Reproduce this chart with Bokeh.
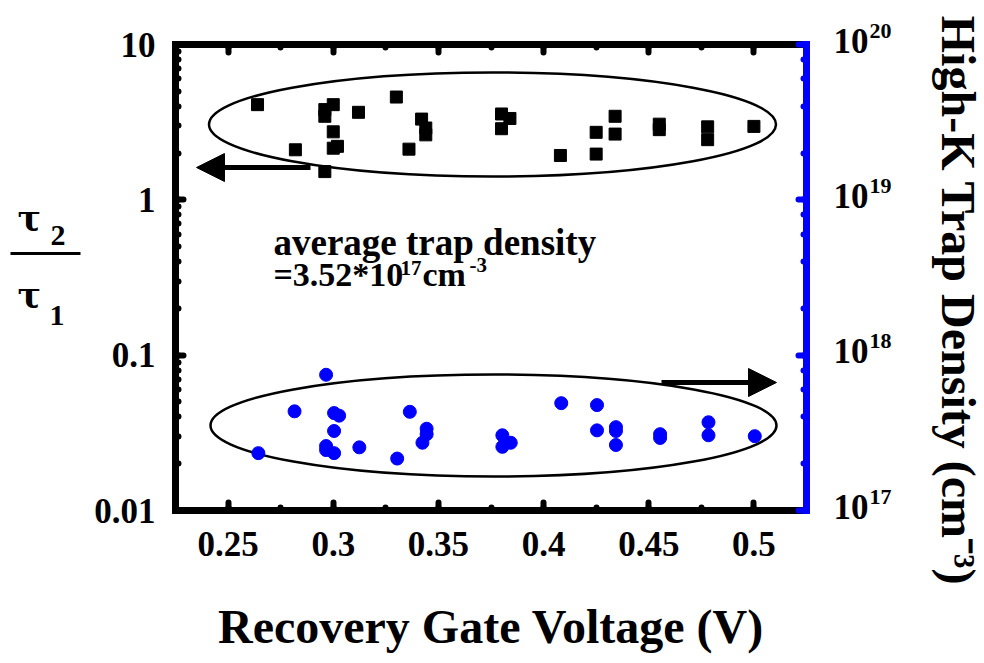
import math
from bokeh.plotting import figure
from bokeh.layouts import row
from bokeh.models import (Range1d, LogAxis, LinearAxis, LogScale, LogTicker,
                          SingleIntervalTicker, NumeralTickFormatter, Label,
                          Arrow, NormalHead)
from bokeh.embed import file_html
from bokeh.resources import INLINE

# ---------------- data ----------------
ratio_voltage = [0.264, 0.282, 0.296, 0.296, 0.296, 0.300, 0.300, 0.300, 0.302,
                 0.312, 0.330, 0.336, 0.342, 0.344, 0.344, 0.380, 0.384, 0.380,
                 0.408, 0.425, 0.425, 0.434, 0.434, 0.455, 0.455, 0.478, 0.478,
                 0.500]
ratio_tau = [4.10, 2.10, 1.52, 3.81, 3.45, 4.10, 2.74, 2.15, 2.21,
             3.66, 4.59, 2.12, 3.31, 2.90, 2.62, 3.57, 3.34, 2.87,
             1.93, 2.72, 1.97, 3.45, 2.65, 3.07, 2.83, 2.95, 2.44,
             2.97]

density_voltage = [0.2966, 0.2816, 0.2644, 0.3004, 0.3028, 0.3004, 0.2966, 0.2966,
                   0.3004, 0.3124, 0.3304, 0.3364, 0.3444, 0.3444, 0.3424, 0.3804,
                   0.3844, 0.3804, 0.4084, 0.4254, 0.4254, 0.4344, 0.4344, 0.4344,
                   0.4554, 0.4554, 0.4784, 0.4784, 0.5004]
trap_density = [7.48e17, 4.35e17, 2.34e17, 4.24e17, 4.08e17, 3.25e17, 2.60e17, 2.45e17,
                2.34e17, 2.55e17, 2.16e17, 4.32e17, 3.36e17, 3.10e17, 2.73e17, 3.05e17,
                2.73e17, 2.57e17, 4.91e17, 4.77e17, 3.28e17, 3.44e17, 3.25e17, 2.64e17,
                3.10e17, 2.93e17, 3.70e17, 3.05e17, 3.01e17]

x_limits = (0.225, 0.525)
ratio_limits = (0.01, 10)
density_limits = (1e17, 1e20)
density_ticks = [1e17, 1e18, 1e19, 1e20]
density_tick_base = "10"
density_tick_exps = ["17", "18", "19", "20"]

x_title = "Recovery Gate Voltage (V)"
right_title = "High-K Trap Density (cm\u207b\u00b3)"
note_line1 = "average trap density"
note_line2 = ["=3.52*10", "17", "cm", "-3"]
left_title = ["\u03c4", "2", "\u03c4", "1"]

# ---------------- layout / style ----------------
W, H = 984, 663
FL, FR, FT, FB = 175, 806, 44, 510      # plot frame on the page
LW = 88                                  # left label strip width
RX = 832                                 # right label strip starts here
FONT = "Liberation Serif"
GREEK_FONT = "DejaVu Serif"
BLUE = "#0000ff"
DEC = (FB - FT) / 3.0                    # pixels per decade


def px_x(px):
    return x_limits[0] + (px - FL) * (x_limits[1] - x_limits[0]) / (FR - FL)


def px_y(py):
    lo, hi = math.log10(ratio_limits[0]), math.log10(ratio_limits[1])
    return 10 ** (hi - (py - FT) * (hi - lo) / (FB - FT))


def mid(baseline, size):
    # Label is drawn with text_baseline="middle"; convert a wanted baseline
    return baseline - 0.3375 * size


def make_label(fig, text, x, y, size, align="left", angle=0.0, font=FONT):
    fig.add_layout(Label(x=x, y=y, text=text, text_font=font,
                         text_font_style="bold", text_font_size=f"{size}px",
                         text_color="black", text_align=align,
                         text_baseline="middle", angle=angle))


def strip(width, y_range, log=False):
    f = figure(width=width, height=H, x_range=Range1d(0, width), y_range=y_range,
               y_axis_type="log" if log else "linear",
               x_axis_location=None, y_axis_location=None,
               output_backend="svg", toolbar_location=None,
               min_border=0, min_border_left=0, min_border_right=0,
               min_border_top=0, min_border_bottom=0)
    f.frame_align = False
    f.outline_line_color = None
    f.background_fill_color = "white"
    f.border_fill_color = "white"
    f.grid.visible = False
    return f


# ---------------- main plot ----------------
p = figure(width=RX - LW, height=H, x_range=Range1d(*x_limits),
           y_range=Range1d(*ratio_limits), y_axis_type="log",
           output_backend="svg", toolbar_location=None,
           min_border_left=FL - LW, min_border_right=RX - FR,
           min_border_top=FT, min_border_bottom=H - FB)
p.frame_align = False
p.outline_line_color = None
p.background_fill_color = "white"
p.border_fill_color = "white"
p.xgrid.visible = False
p.ygrid.visible = False

p.extra_y_ranges = {"right": Range1d(*density_limits)}
p.extra_y_scales = {"right": LogScale()}


def style_axis(ax, color):
    ax.axis_line_color = color
    ax.axis_line_width = 7
    ax.axis_line_cap = "square"
    ax.major_tick_line_color = color
    ax.minor_tick_line_color = color
    ax.major_tick_in = 8
    ax.major_tick_out = 0
    ax.minor_tick_in = 3
    ax.minor_tick_out = 0
    ax.major_tick_line_width = 6
    ax.minor_tick_line_width = 6
    ax.major_tick_line_cap = "round"
    ax.minor_tick_line_cap = "round"
    ax.major_label_text_font = FONT
    ax.major_label_text_font_style = "bold"
    ax.major_label_text_font_size = "35px"
    ax.major_label_text_color = "black"


xa = p.xaxis[0]
xa.ticker = SingleIntervalTicker(interval=0.05, num_minor_ticks=2)
xa.formatter = NumeralTickFormatter(format="0.[00]")
style_axis(xa, "black")
xa.major_label_standoff = 21
xa.axis_label = x_title
xa.axis_label_text_font = FONT
xa.axis_label_text_font_style = "bold"
xa.axis_label_text_font_size = "48px"
xa.axis_label_text_color = "black"
xa.axis_label_standoff = 41

ya = p.yaxis[0]
ya.formatter = NumeralTickFormatter(format="0.[00]")
style_axis(ya, "black")
ya.major_label_standoff = 20

top = LinearAxis(ticker=SingleIntervalTicker(interval=0.05, num_minor_ticks=2))
style_axis(top, "black")
top.major_label_text_font_size = "4px"
top.major_label_text_color = None
p.add_layout(top, "above")

right = LogAxis(y_range_name="right", ticker=LogTicker())
style_axis(right, BLUE)
right.major_label_text_font_size = "4px"
right.major_label_text_color = None
right.major_label_standoff = 0
p.add_layout(right, "right")

# ellipses (annotation outlines)
for cx, cy, ew, eh in [(492, 124, 567, 104), (493, 425, 566, 102)]:
    p.ellipse(x=[px_x(cx)], y=[px_y(cy)], width=[ew], height=[eh],
              width_units="screen", height_units="screen",
              fill_color=None, line_color="black", line_width=2.5)

# data
p.scatter(ratio_voltage, ratio_tau, marker="square", size=12,
          fill_color="black", line_color="black")
p.scatter(density_voltage, trap_density, marker="circle", size=13,
          fill_color=BLUE, line_color=BLUE, y_range_name="right")

# arrows
for (x0, y0), (x1, y1) in [((310, 167), (196, 167)), ((661, 382), (776, 382))]:
    p.add_layout(Arrow(x_start=px_x(x0), y_start=px_y(y0),
                       x_end=px_x(x1), y_end=px_y(y1), line_width=5,
                       line_color="black",
                       end=NormalHead(size=28, fill_color="black",
                                      line_color="black")))

# note text
make_label(p, note_line1, px_x(273), px_y(mid(254, 37)), 37)
make_label(p, note_line2[0], px_x(273), px_y(mid(285, 34)), 34)
make_label(p, note_line2[1], px_x(400), px_y(mid(275, 21)), 21)
make_label(p, note_line2[2], px_x(422), px_y(mid(285, 34)), 34)
make_label(p, note_line2[3], px_x(469), px_y(mid(272, 21)), 21)

# ---------------- left strip: tau2 / tau1 ----------------
lf = strip(LW, Range1d(H, 0))
make_label(lf, left_title[0], 17, mid(230, 35), 35, font=GREEK_FONT)
make_label(lf, left_title[1], 50, mid(245, 30), 30)
make_label(lf, left_title[2], 17, mid(307, 35), 35, font=GREEK_FONT)
make_label(lf, left_title[3], 49, mid(325, 30), 30)
lf.line(x=[10, 80], y=[253, 253], line_width=3, line_color="black")

# ---------------- right strip: density tick labels and title ----------------
rlo = math.log10(density_limits[0]) - (H - FB) / DEC
rhi = math.log10(density_limits[1]) + FT / DEC
rf = strip(W - RX, Range1d(10 ** rlo, 10 ** rhi), log=True)


def rf_y(py):
    return 10 ** (rhi - py / DEC)


for t, e in zip(density_ticks, density_tick_exps):
    make_label(rf, density_tick_base, 833 - RX, t * 10 ** (4 / DEC), 35)
    make_label(rf, e, 869 - RX, t * 10 ** (14 / DEC), 22)

make_label(rf, right_title, 958 - RX, rf_y(300), 48, align="center",
           angle=-math.pi / 2)

layout = row(lf, p, rf)
open("out.html", "w").write(file_html(layout, INLINE))
